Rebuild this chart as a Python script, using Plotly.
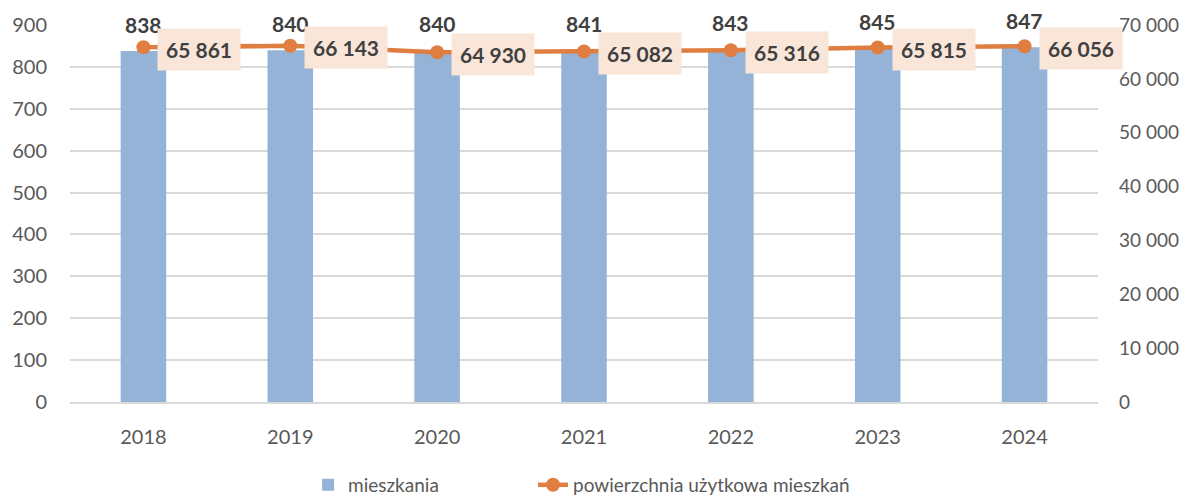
import plotly.graph_objects as go

years = ["2018", "2019", "2020", "2021", "2022", "2023", "2024"]
mieszkania = [838, 840, 840, 841, 843, 845, 847]
powierzchnia = [65861, 66143, 64930, 65082, 65316, 65815, 66056]
left_ticks = [0, 100, 200, 300, 400, 500, 600, 700, 800, 900]
right_ticks = [0, 10000, 20000, 30000, 40000, 50000, 60000, 70000]

FONT = "Lato"
BAR_C = "#95B3D7"
LINE_C = "#DF7E40"
BOX_C = "#FAE6D9"
LBL_C = "#404040"
TICK_C = "#595959"


def fmt(v):
    return f"{v:,}".replace(",", " ")


fig = go.Figure()
fig.add_trace(go.Bar(
    x=years, y=mieszkania, name="mieszkania",
    marker=dict(color=BAR_C, line=dict(width=0)),
    yaxis="y", width=0.31, legend="legend",
))
fig.add_trace(go.Scatter(
    x=years, y=powierzchnia, name="powierzchnia użytkowa mieszkań",
    mode="lines+markers", yaxis="y2", legend="legend2",
    line=dict(color=LINE_C, width=4.5),
    marker=dict(color=LINE_C, size=14),
))

annotations = []
for i, v in enumerate(mieszkania):
    annotations.append(dict(
        x=i, y=v, xref="x", yref="y", text=f"<b>{v}</b>",
        showarrow=False, yanchor="bottom", yshift=12,
        font=dict(family=FONT, size=21, color=LBL_C),
    ))
for i, v in enumerate(powierzchnia):
    annotations.append(dict(
        x=i, y=v, xref="x", yref="y2", text=f"<b>{fmt(v)}</b>",
        showarrow=False, xanchor="left", yanchor="middle",
        xshift=14, yshift=-2,
        bgcolor=BOX_C, borderpad=8,
        font=dict(family=FONT, size=21, color=LBL_C),
    ))

legend_common = dict(
    orientation="h", xanchor="left", y=-0.22, yanchor="middle",
    font=dict(family=FONT, size=19, color=TICK_C),
    bgcolor="rgba(0,0,0,0)",
)

fig.update_layout(
    width=1182, height=488,
    margin=dict(l=62, r=92, t=17, b=94, autoexpand=False),
    paper_bgcolor="white", plot_bgcolor="white",
    font=dict(family=FONT, size=19, color=TICK_C),
    showlegend=True,
    legend=dict(x=0.2316, **legend_common),
    legend2=dict(x=0.4504, **legend_common),
    xaxis=dict(
        type="category", range=[-0.5, len(years) - 0.5],
        showgrid=False, zeroline=False,
        showline=True, linecolor="#D9D9D9", linewidth=2,
        ticks="", ticklabelstandoff=16,
        tickfont=dict(family=FONT, size=20, color=TICK_C),
    ),
    yaxis=dict(
        range=[0, 900], tickvals=left_ticks,
        showgrid=True, gridcolor="#D9D9D9", gridwidth=2,
        zeroline=False, showline=False, ticks="",
        ticklabelstandoff=22,
        tickfont=dict(family=FONT, size=20, color=TICK_C),
    ),
    yaxis2=dict(
        range=[0, 70000], tickvals=right_ticks,
        ticktext=[fmt(t) for t in right_ticks],
        overlaying="y", side="right", showgrid=False, zeroline=False,
        showline=False, ticks="", ticklabelstandoff=20,
        tickfont=dict(family=FONT, size=19, color=TICK_C),
    ),
    annotations=annotations,
)

fig.write_html("out.html")
